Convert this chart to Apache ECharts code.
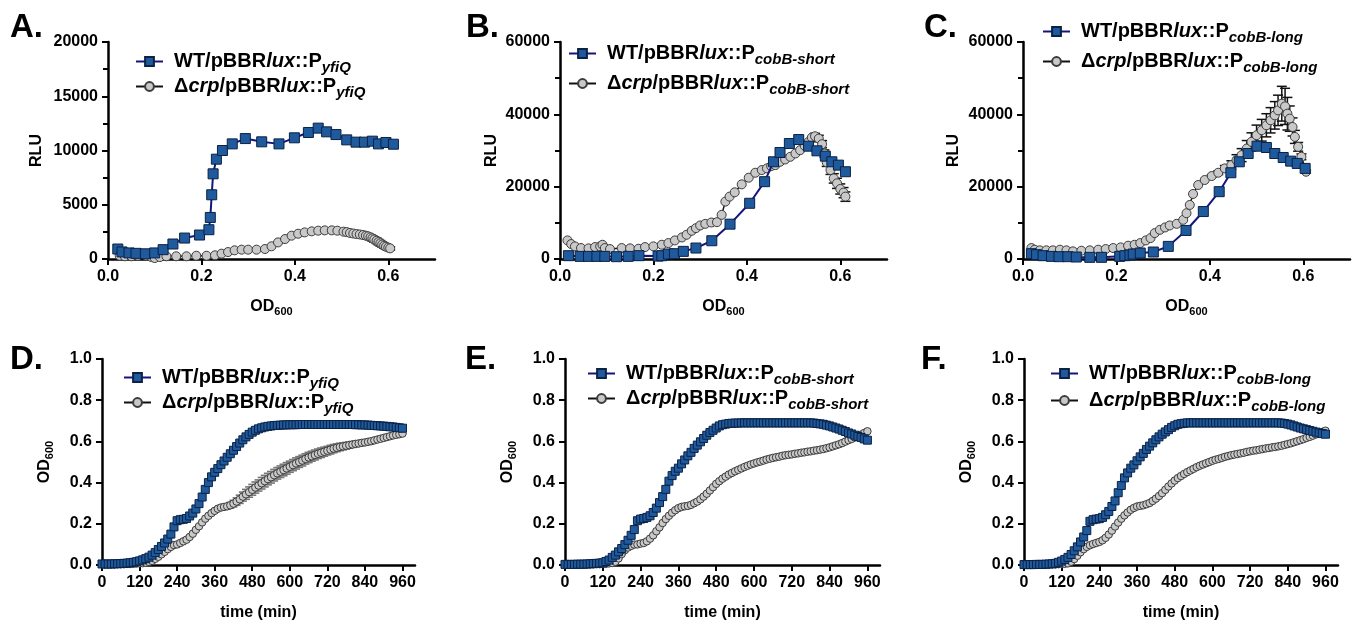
<!DOCTYPE html>
<html><head><meta charset="utf-8">
<script src="https://cdn.jsdelivr.net/npm/echarts@6/dist/echarts.min.js"></script>
<style>html,body{margin:0;padding:0;background:#fff}#c{width:1354px;height:622px}</style>
</head><body><div id="c"></div>
<script>
// ---------- DATA ----------
const odTicks = [0, 0.2, 0.4, 0.6];
const timeTicks = [0, 120, 240, 360, 480, 600, 720, 840, 960];

// Panel A (OD600 vs RLU, PyfiQ)
const aWtOD  = [0.021,0.03,0.045,0.06,0.08,0.1,0.118,0.139,0.164,0.196,0.216,0.219,0.222,0.225,0.232,0.245,0.266,0.294,0.329,0.366,0.399,0.429,0.45,0.468,0.488,0.511,0.531,0.549,0.566,0.579,0.595,0.611];
const aWtRLU = [920,650,560,520,480,560,860,1380,1930,2210,2700,3830,5920,7850,9200,10000,10610,11100,10800,10610,11170,11660,12060,11720,11470,10980,10770,10770,10860,10610,10740,10580];
const aCrpOD  = [0.025,0.036,0.05,0.064,0.082,0.093,0.1,0.111,0.125,0.146,0.168,0.189,0.211,0.229,0.243,0.257,0.271,0.286,0.3,0.318,0.336,0.35,0.364,0.379,0.393,0.407,0.421,0.436,0.45,0.464,0.479,0.491,0.504,0.511,0.518,0.525,0.532,0.539,0.546,0.552,0.557,0.562,0.566,0.57,0.575,0.579,0.583,0.587,0.591,0.595,0.6,0.604];
const aCrpRLU = [300,250,250,300,300,180,90,180,250,250,250,300,300,340,490,640,800,860,860,860,920,1170,1530,1840,2150,2330,2450,2550,2610,2640,2640,2610,2520,2480,2400,2350,2300,2260,2210,2150,2090,2000,1900,1800,1680,1560,1450,1330,1220,1130,1050,980];
const aCrpErr = [0,0,0,0,0,0,0,0,0,0,0,0,0,0,0,0,0,0,0,0,0,0,0,0,0,0,0,0,0,0,0,0,0,0,0,0,0,0,150,180,200,220,250,250,250,250,250,230,220,200,180,150];

// Panel B (PcobB-short)
const bWtOD  = [0.018,0.043,0.061,0.079,0.096,0.121,0.146,0.169,0.21,0.218,0.232,0.245,0.264,0.291,0.325,0.364,0.406,0.438,0.457,0.471,0.491,0.511,0.532,0.55,0.568,0.582,0.596,0.611];
const bWtRLU = [920,730,730,730,730,640,730,920,800,920,1380,1470,2110,3030,5050,9630,15410,21380,26880,29450,31930,33030,31190,29910,28440,26880,25960,24130];
const bCrpOD  = [0.016,0.024,0.032,0.045,0.061,0.075,0.086,0.091,0.096,0.107,0.132,0.15,0.168,0.182,0.2,0.218,0.232,0.246,0.261,0.271,0.282,0.291,0.3,0.311,0.324,0.336,0.346,0.354,0.363,0.374,0.389,0.404,0.418,0.432,0.443,0.452,0.461,0.471,0.482,0.493,0.504,0.514,0.524,0.532,0.539,0.546,0.554,0.561,0.566,0.571,0.579,0.586,0.593,0.6,0.607,0.611];
const bCrpRLU = [5140,4130,3490,3030,2940,3300,3490,3940,3030,2750,3030,2940,2840,3300,3490,3940,4400,5140,5960,6700,7800,8530,9270,9720,10090,10180,12200,15870,17250,18440,20640,22480,23850,24590,25050,25690,25960,26880,27520,28260,29170,30090,31280,32390,33580,33940,33300,31740,29170,26700,24590,22290,20920,19360,18350,17250];
const bCrpErr = [0,0,0,0,0,0,0,0,0,0,0,0,0,0,0,0,0,0,0,0,0,0,0,0,0,0,0,0,0,0,0,0,0,0,0,0,0,0,0,0,0,0,0,0,0,800,900,1000,1000,1100,1200,1300,1400,1400,1400,1300];

// Panel C (PcobB-long)
const cWtOD  = [0.018,0.029,0.043,0.061,0.077,0.096,0.114,0.143,0.168,0.207,0.218,0.229,0.236,0.251,0.279,0.311,0.349,0.386,0.42,0.445,0.463,0.482,0.501,0.521,0.539,0.557,0.573,0.587,0.604];
const cWtRLU = [1470,1190,920,730,640,640,550,460,460,730,920,1100,1380,1650,1930,3490,7890,13120,18620,23850,26880,29170,31190,30830,29170,28070,27060,26420,25050];
const cCrpOD  = [0.018,0.025,0.036,0.05,0.064,0.079,0.093,0.107,0.125,0.143,0.161,0.177,0.193,0.209,0.225,0.239,0.251,0.263,0.273,0.282,0.293,0.304,0.314,0.329,0.343,0.35,0.357,0.364,0.375,0.389,0.404,0.418,0.432,0.446,0.457,0.468,0.479,0.489,0.5,0.511,0.521,0.53,0.539,0.546,0.554,0.561,0.566,0.571,0.577,0.582,0.589,0.596,0.604,0.606];
const cCrpRLU = [3030,2570,2390,2390,2390,2570,2390,2110,2290,2390,2570,2750,3030,3210,3670,3940,4400,5140,5780,7160,8070,8720,9270,9720,10830,12660,14950,17980,20460,21840,22940,23850,25050,25960,27340,28720,30550,32390,34220,35600,36970,38350,39720,41100,42940,42200,40180,38810,36510,33760,31010,28260,25050,24130];
const cCrpErr = [0,0,0,0,0,0,0,0,0,0,0,0,0,0,0,0,0,0,0,0,0,0,0,0,0,0,0,0,0,0,300,500,800,1200,1500,1800,2200,2500,2800,3000,3200,3500,3800,4200,4800,5000,4500,3500,2500,1800,1200,800,500,400];

// Growth curves (time in min vs OD600)
const time = [0,10,20,30,40,50,60,70,80,90,100,110,120,130,140,150,160,170,180,190,200,210,220,230,240,250,260,270,280,290,300,310,320,330,340,350,360,370,380,390,400,410,420,430,440,450,460,470,480,490,500,510,520,530,540,550,560,570,580,590,600,610,620,630,640,650,660,670,680,690,700,710,720,730,740,750,760,770,780,790,800,810,820,830,840,850,860,870,880,890,900,910,920,930,940,950,960];

const dWt = [0.005,0.005,0.005,0.005,0.006,0.006,0.007,0.008,0.009,0.011,0.013,0.016,0.02,0.025,0.031,0.038,0.048,0.06,0.075,0.09,0.107,0.126,0.15,0.185,0.215,0.22,0.222,0.226,0.238,0.252,0.272,0.298,0.33,0.367,0.4,0.428,0.45,0.468,0.487,0.505,0.523,0.54,0.557,0.575,0.592,0.608,0.622,0.634,0.645,0.654,0.661,0.666,0.67,0.673,0.675,0.677,0.678,0.679,0.68,0.68,0.681,0.681,0.681,0.682,0.682,0.682,0.682,0.682,0.682,0.682,0.682,0.682,0.682,0.682,0.682,0.682,0.682,0.682,0.682,0.682,0.682,0.681,0.681,0.68,0.68,0.679,0.678,0.677,0.676,0.675,0.674,0.673,0.671,0.67,0.668,0.666,0.664];
const dCrp = [0.003,0.003,0.003,0.003,0.003,0.004,0.004,0.004,0.005,0.005,0.006,0.007,0.008,0.009,0.011,0.015,0.02,0.03,0.04,0.052,0.064,0.077,0.088,0.097,0.1,0.107,0.115,0.123,0.136,0.152,0.171,0.188,0.207,0.225,0.239,0.252,0.263,0.273,0.279,0.282,0.285,0.29,0.298,0.308,0.319,0.332,0.343,0.354,0.365,0.376,0.386,0.397,0.407,0.417,0.426,0.436,0.445,0.453,0.461,0.469,0.477,0.485,0.493,0.5,0.507,0.515,0.522,0.528,0.534,0.54,0.545,0.55,0.555,0.56,0.565,0.569,0.573,0.576,0.579,0.582,0.585,0.588,0.59,0.593,0.595,0.598,0.601,0.605,0.609,0.613,0.617,0.621,0.625,0.629,0.632,0.635,0.638];
const dCrpErr = [0,0,0,0,0,0,0,0,0,0,0,0,0,0,0,0,0,0,0,0,0,0,0,0,0,0,0,0,0,0,0,0,0,0,0,0,0,0,0.008,0.01,0.012,0.014,0.016,0.018,0.02,0.022,0.024,0.025,0.026,0.027,0.027,0.028,0.028,0.028,0.028,0.028,0.028,0.028,0.028,0.028,0.027,0.027,0.027,0.026,0.026,0.025,0.025,0.024,0.024,0.023,0.023,0.022,0.021,0.021,0.02,0.019,0.018,0.017,0.016,0.015,0.014,0.013,0.012,0.011,0.01,0.009,0.008,0.007,0.006,0.005,0.004,0.003,0.002,0.002,0.001,0.001,0.001];

const eWt = [0.003,0.003,0.003,0.003,0.004,0.004,0.004,0.005,0.006,0.007,0.008,0.009,0.011,0.017,0.024,0.037,0.048,0.064,0.08,0.099,0.12,0.144,0.172,0.215,0.223,0.226,0.231,0.239,0.255,0.276,0.303,0.332,0.367,0.407,0.434,0.455,0.47,0.491,0.51,0.53,0.547,0.566,0.582,0.598,0.614,0.63,0.643,0.654,0.665,0.675,0.681,0.684,0.687,0.688,0.689,0.689,0.69,0.69,0.69,0.69,0.69,0.69,0.69,0.69,0.69,0.69,0.69,0.69,0.69,0.69,0.69,0.69,0.69,0.69,0.69,0.69,0.69,0.69,0.69,0.689,0.687,0.685,0.683,0.679,0.675,0.67,0.665,0.66,0.654,0.648,0.641,0.636,0.63,0.624,0.619,0.612,0.606];
const eCrp = [0.002,0.002,0.002,0.002,0.002,0.002,0.003,0.003,0.003,0.003,0.004,0.004,0.005,0.006,0.008,0.01,0.016,0.032,0.053,0.072,0.085,0.093,0.099,0.1,0.104,0.107,0.115,0.128,0.144,0.164,0.183,0.204,0.223,0.239,0.254,0.266,0.276,0.282,0.285,0.287,0.292,0.3,0.308,0.319,0.332,0.346,0.362,0.378,0.394,0.407,0.419,0.429,0.439,0.447,0.455,0.462,0.469,0.476,0.482,0.488,0.493,0.498,0.502,0.507,0.512,0.516,0.52,0.523,0.526,0.53,0.533,0.535,0.537,0.54,0.542,0.545,0.547,0.55,0.552,0.555,0.557,0.56,0.563,0.567,0.571,0.576,0.581,0.586,0.592,0.599,0.606,0.612,0.619,0.626,0.633,0.641,0.649];

const fWt = [0.002,0.002,0.002,0.002,0.003,0.003,0.003,0.004,0.005,0.006,0.008,0.013,0.019,0.027,0.037,0.051,0.069,0.088,0.112,0.136,0.167,0.212,0.22,0.223,0.225,0.231,0.244,0.26,0.284,0.311,0.351,0.386,0.423,0.447,0.47,0.486,0.506,0.525,0.542,0.561,0.577,0.593,0.608,0.622,0.635,0.646,0.657,0.668,0.676,0.683,0.686,0.688,0.69,0.69,0.69,0.69,0.69,0.69,0.69,0.69,0.69,0.69,0.69,0.69,0.69,0.69,0.69,0.69,0.69,0.69,0.69,0.69,0.69,0.69,0.69,0.69,0.69,0.69,0.69,0.69,0.69,0.69,0.689,0.687,0.684,0.68,0.675,0.67,0.665,0.661,0.657,0.653,0.649,0.645,0.641,0.638,0.635];
const fCrp = [0.002,0.002,0.002,0.002,0.002,0.002,0.002,0.003,0.003,0.003,0.003,0.004,0.005,0.006,0.008,0.016,0.029,0.045,0.062,0.077,0.088,0.096,0.102,0.107,0.112,0.12,0.132,0.148,0.167,0.187,0.206,0.225,0.241,0.255,0.268,0.277,0.284,0.287,0.29,0.295,0.301,0.311,0.322,0.335,0.349,0.365,0.381,0.396,0.41,0.422,0.432,0.442,0.451,0.459,0.467,0.475,0.482,0.488,0.494,0.5,0.506,0.511,0.515,0.52,0.525,0.529,0.533,0.536,0.539,0.542,0.545,0.549,0.552,0.555,0.557,0.56,0.563,0.566,0.568,0.571,0.573,0.576,0.579,0.583,0.587,0.591,0.596,0.601,0.606,0.611,0.617,0.622,0.628,0.634,0.64,0.646,0.652];

// ---------- CHART ----------
const FONT = '"Liberation Sans", Arial, sans-serif';
const chart = echarts.init(document.getElementById('c'), null, {renderer: 'canvas'});

const zip = (xs, ys) => xs.map((x, i) => [x, ys[i]]);
const errData = (xs, ys, es) => xs.map((x, i) => [x, ys[i] - es[i], ys[i] + es[i], es[i]]).filter(d => d[3] > 0);

const grids = [
  {left: 108, top: 42, width: 327, height: 217},
  {left: 560, top: 42, width: 327, height: 217},
  {left: 1023, top: 42, width: 327, height: 217},
  {left: 102, top: 359, width: 313, height: 209},
  {left: 565, top: 359, width: 315, height: 209},
  {left: 1024, top: 359, width: 314, height: 209}
];

const labelStyle = {color: '#000', fontFamily: FONT, fontWeight: 'bold', fontSize: 16};
const axisLine = {show: true, onZero: false, lineStyle: {color: '#000', width: 2.5}};
const nameRich = {
  n: {fontFamily: FONT, fontWeight: 'bold', fontSize: 16, color: '#000', lineHeight: 20},
  s: {fontFamily: FONT, fontWeight: 'bold', fontSize: 11, color: '#000', lineHeight: 20, padding: [9, 0, 0, 0]}
};

const xAxes = [], yAxes = [];
for (let i = 0; i < 6; i++) {
  const top = i < 3;
  xAxes.push({
    type: 'value', gridIndex: i, min: 0, max: top ? 0.7 : 1000,
    interval: top ? 0.1 : 40,
    axisLine: axisLine,
    axisTick: {show: true, length: 6, lineStyle: {color: '#000', width: 2}, customValues: top ? odTicks : timeTicks},
    axisLabel: Object.assign({margin: 10, customValues: top ? odTicks : timeTicks,
      formatter: v => top ? v.toFixed(1) : String(v)}, labelStyle),
    splitLine: {show: false},
    name: top ? '{n|OD}{s|600}' : '{n|time (min)}',
    nameLocation: 'middle', nameGap: 38,
    nameTextStyle: {rich: nameRich}
  });
  yAxes.push({
    type: 'value', gridIndex: i, min: 0,
    max: i === 0 ? 20000 : (top ? 60000 : 1),
    interval: i === 0 ? 5000 : (top ? 20000 : 0.2),
    axisLine: axisLine,
    axisTick: {show: true, length: 6, lineStyle: {color: '#000', width: 2}},
    minorTick: {show: top, splitNumber: 2, length: 5, lineStyle: {color: '#000', width: 2}},
    axisLabel: Object.assign({margin: 10, formatter: v => top ? String(v) : v.toFixed(1)}, labelStyle),
    splitLine: {show: false},
    name: top ? '{n|RLU}' : '{n|OD}{s|600}',
    nameLocation: 'middle', nameGap: top ? [61, 58, 59][i] : 47,
    nameTextStyle: {rich: nameRich}
  });
}

function errRender(color, lw, w) {
  return function (params, api) {
    const x = api.value(0);
    const p1 = api.coord([x, api.value(2)]);
    const p2 = api.coord([x, api.value(1)]);
    const st = {stroke: color, lineWidth: lw};
    return {type: 'group', children: [
      {type: 'line', shape: {x1: p1[0], y1: p1[1], x2: p2[0], y2: p2[1]}, style: st},
      {type: 'line', shape: {x1: p1[0] - w, y1: p1[1], x2: p1[0] + w, y2: p1[1]}, style: st},
      {type: 'line', shape: {x1: p2[0] - w, y1: p2[1], x2: p2[0] + w, y2: p2[1]}, style: st}
    ]};
  };
}

const panelData = [
  {wt: zip(aWtOD, aWtRLU), crp: zip(aCrpOD, aCrpRLU), err: errData(aCrpOD, aCrpRLU, aCrpErr), errColor: '#111'},
  {wt: zip(bWtOD, bWtRLU), crp: zip(bCrpOD, bCrpRLU), err: errData(bCrpOD, bCrpRLU, bCrpErr), errColor: '#111'},
  {wt: zip(cWtOD, cWtRLU), crp: zip(cCrpOD, cCrpRLU), err: errData(cCrpOD, cCrpRLU, cCrpErr), errColor: '#111'},
  {wt: zip(time, dWt), crp: zip(time, dCrp), err: errData(time, dCrp, dCrpErr), errColor: '#777'},
  {wt: zip(time, eWt), crp: zip(time, eCrp), err: [], errColor: '#777'},
  {wt: zip(time, fWt), crp: zip(time, fCrp), err: [], errColor: '#777'}
];
const promoters = ['yfiQ', 'cobB-short', 'cobB-long', 'yfiQ', 'cobB-short', 'cobB-long'];
const letters = ['A.', 'B.', 'C.', 'D.', 'E.', 'F.'];

const series = [];
const legends = [];
const legendPos = [
  {left: 135, top: 48, gap: -2}, {left: 568, top: 40, gap: 3}, {left: 1042, top: 18, gap: 3},
  {left: 123, top: 364, gap: -2}, {left: 587, top: 360, gap: -2}, {left: 1050, top: 360, gap: 0}
];
const legendRich = {
  b: {fontFamily: FONT, fontWeight: 'bold', fontSize: 20, color: '#000', lineHeight: 24},
  i: {fontFamily: FONT, fontWeight: 'bold', fontStyle: 'italic', fontSize: 20, color: '#000', lineHeight: 24},
  s: {fontFamily: FONT, fontWeight: 'bold', fontStyle: 'italic', fontSize: 15, color: '#000', lineHeight: 24, padding: [12, 0, 0, 0]}
};
const nameMap = {};
for (let i = 0; i < 6; i++) {
  const top = i < 3;
  const wtName = 'wt' + i, crpName = 'crp' + i;
  nameMap[wtName] = '{b|WT/pBBR}{i|lux}{b|::P}{s|' + promoters[i] + '}';
  nameMap[crpName] = '{b|Δ}{i|crp}{b|/pBBR}{i|lux}{b|::P}{s|' + promoters[i] + '}';
  series.push({
    type: 'custom', name: 'err' + i, xAxisIndex: i, yAxisIndex: i, z: 1, silent: true,
    renderItem: errRender(panelData[i].errColor, top ? 1.5 : 1.6, top ? 5 : 4), data: panelData[i].err
  });
  series.push({
    type: 'line', name: crpName, xAxisIndex: i, yAxisIndex: i, data: panelData[i].crp,
    symbol: 'circle', symbolSize: top ? 9 : 7.5, showAllSymbol: true, z: 2,
    itemStyle: {color: '#c9c9c9', borderColor: '#3c3c3c', borderWidth: 1},
    lineStyle: {color: '#111', width: 1.5}
  });
  series.push({
    type: 'line', name: wtName, xAxisIndex: i, yAxisIndex: i, data: panelData[i].wt,
    symbol: 'rect', symbolSize: top ? 10 : 8, showAllSymbol: true, z: 3,
    itemStyle: {color: '#1f5a9c', borderColor: '#0b2146', borderWidth: 1},
    lineStyle: {color: '#15157f', width: 2}
  });
  legends.push({
    orient: 'vertical', left: legendPos[i].left, top: legendPos[i].top, padding: 0,
    itemWidth: 27, itemHeight: 11, itemGap: legendPos[i].gap, selectedMode: false,
    data: [wtName, crpName],
    formatter: n => nameMap[n],
    textStyle: {rich: legendRich, padding: [0, 0, 0, 6]}
  });
}

const letterPos = [[10, 11], [466, 11], [924, 11], [10, 343], [465, 343], [921, 343]];
const graphics = letters.map((t, i) => ({
  type: 'text', left: letterPos[i][0], top: letterPos[i][1],
  style: {text: t, font: 'bold 33px ' + FONT, fill: '#000'}
}));

chart.setOption({
  animation: false,
  backgroundColor: '#fff',
  grid: grids,
  xAxis: xAxes,
  yAxis: yAxes,
  legend: legends,
  series: series,
  graphic: graphics
});
</script>
</body></html>
